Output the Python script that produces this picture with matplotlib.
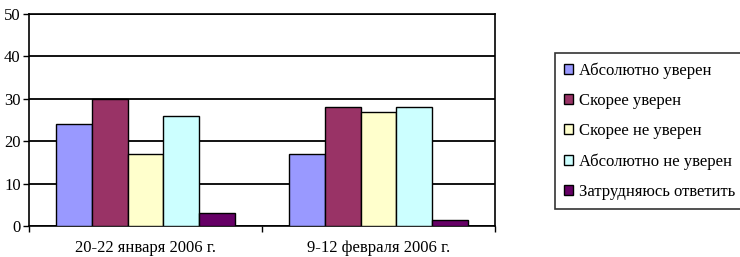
import matplotlib.pyplot as plt
import numpy as np

plt.rcParams['font.family'] = ['Liberation Serif', 'DejaVu Serif']

# survey data
categories = ['20-22 января 2006 г.', '9-12 февраля 2006 г.']
series_names = ['Абсолютно уверен', 'Скорее уверен', 'Скорее не уверен',
                'Абсолютно не уверен', 'Затрудняюсь ответить']
absolutely_sure = [24, 17]
rather_sure = [30, 28]
rather_unsure = [17, 27]
absolutely_unsure = [26, 28]
hard_to_say = [3, 1.5]
colors = ['#9999FF', '#993366', '#FFFFCC', '#CCFFFF', '#660066']

values = [absolutely_sure, rather_sure, rather_unsure, absolutely_unsure, hard_to_say]

fig = plt.figure(figsize=(7.4, 2.57), dpi=100)
ax = fig.add_axes([29 / 740, 31 / 257, 466 / 740, 212 / 257])

x = np.arange(len(categories))
width = 0.77 / 5
for i, (name, vals) in enumerate(zip(series_names, values)):
    ax.bar(x + (i - 2) * width, vals, width, color=colors[i], edgecolor='black',
           linewidth=1, label=name, zorder=3)

ax.set_xlim(-0.5, 1.5)
ax.set_ylim(0, 50)
ax.set_yticks(range(0, 51, 10))
ax.yaxis.grid(True, color='black', linewidth=1.3, zorder=0)
ax.tick_params(axis='y', direction='out', length=4, width=1, pad=2, labelsize=12)

# category labels centred, tick marks at group boundaries
ax.set_xticks(x)
ax.set_xticklabels(categories)
ax.tick_params(axis='x', which='major', length=0, pad=10, labelsize=12)
ax.set_xticks([-0.5, 0.5, 1.5], minor=True)
ax.tick_params(axis='x', which='minor', direction='out', length=4, width=1)

for s in ax.spines.values():
    s.set_color('black')
    s.set_linewidth(1.2)

leg = ax.legend(loc='upper left', bbox_to_anchor=(555 / 740, 204 / 257),
                bbox_transform=fig.transFigure, fontsize=12, frameon=True,
                fancybox=False, handlelength=0.55, handleheight=0.55,
                handletextpad=0.35, labelspacing=0.85, borderpad=0.55,
                borderaxespad=0)
leg.get_frame().set_edgecolor('black')
leg.get_frame().set_linewidth(1.2)

fig.savefig('out.png', dpi=100)
